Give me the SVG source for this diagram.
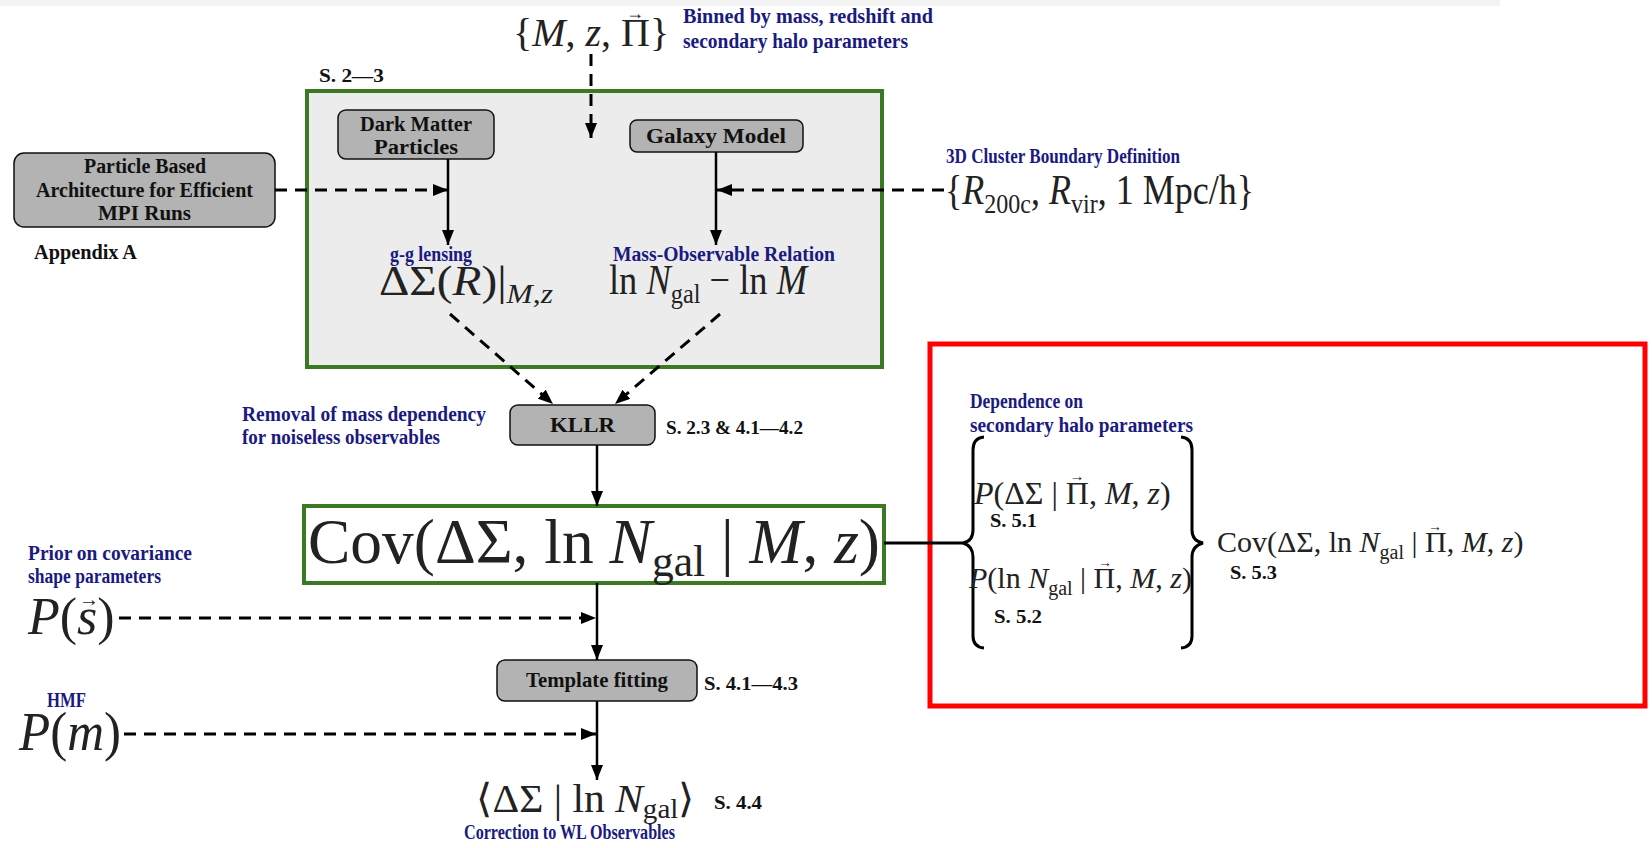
<svg xmlns="http://www.w3.org/2000/svg" width="1652" height="848" viewBox="0 0 1652 848">
<defs>
<marker id="ah" markerUnits="userSpaceOnUse" markerWidth="16" markerHeight="12" refX="15" refY="6" orient="auto">
<path d="M0,0 L15,6 L0,12 z" fill="#000"/>
</marker>
<style>
.blue{font-family:"Liberation Serif",serif;font-weight:bold;fill:#1a1a80;font-size:20px}
.lbl{font-family:"Liberation Serif",serif;font-weight:bold;fill:#111;font-size:20px}
.sec{font-family:"Liberation Serif",serif;font-weight:bold;fill:#111;font-size:18px}
.math{font-family:"Liberation Serif",serif;fill:#222}
.it{font-style:italic}
.vec{font-style:normal;text-anchor:middle}
.box{fill:#b3b3b3;stroke:#111;stroke-width:1.5}
.dash{stroke:#000;stroke-width:3;stroke-dasharray:12 8;fill:none}
.solid{stroke:#000;stroke-width:2.5;fill:none}
.brace{stroke:#000;stroke-width:3;fill:none}
</style>
</defs>
<rect x="0" y="0" width="1500" height="6" fill="#f3f3f3"/>

<g id="input-binning">
<text class="math" x="513" y="46" font-size="40">{<tspan class="it">M</tspan>, <tspan class="it">z</tspan>, Π}<tspan class="vec" x="635" y="19" font-size="18">→</tspan></text>
<text class="blue" x="683" y="23" textLength="250" lengthAdjust="spacingAndGlyphs">Binned by mass, redshift and</text>
<text class="blue" x="683" y="48" textLength="225" lengthAdjust="spacingAndGlyphs">secondary halo parameters</text>
</g>

<g id="sim-box">
<rect x="307" y="91" width="575" height="276" fill="#ececec" stroke="#3b7a22" stroke-width="4"/>
<text class="sec" x="319" y="82" font-size="19" textLength="65" lengthAdjust="spacingAndGlyphs">S. 2—3</text>
</g>

<g id="dm-particles">
<rect class="box" x="338" y="110" width="156" height="49" rx="8"/>
<text class="lbl" x="360" y="131" textLength="112" lengthAdjust="spacingAndGlyphs">Dark Matter</text>
<text class="lbl" x="374" y="154" textLength="84" lengthAdjust="spacingAndGlyphs">Particles</text>
</g>

<g id="galaxy-model">
<rect class="box" x="630" y="120" width="173" height="32" rx="7"/>
<text class="lbl" x="646" y="143" textLength="140" lengthAdjust="spacingAndGlyphs">Galaxy Model</text>
</g>

<g id="particle-arch">
<rect class="box" x="14" y="153" width="261" height="74" rx="10"/>
<text class="lbl" x="84" y="173" textLength="122" lengthAdjust="spacingAndGlyphs">Particle Based</text>
<text class="lbl" x="36" y="197" textLength="217" lengthAdjust="spacingAndGlyphs">Architecture for Efficient</text>
<text class="lbl" x="98" y="220" textLength="93" lengthAdjust="spacingAndGlyphs">MPI Runs</text>
<text class="lbl" x="34" y="259" textLength="103" lengthAdjust="spacingAndGlyphs">Appendix A</text>
</g>

<g id="gg-lensing">
<text class="blue" x="390" y="261" textLength="82" lengthAdjust="spacingAndGlyphs">g-g lensing</text>
<text class="math" x="379" y="295" font-size="42" textLength="174" lengthAdjust="spacingAndGlyphs">ΔΣ(<tspan class="it">R</tspan>)|<tspan class="it" font-size="28" dy="8">M</tspan><tspan font-size="28">,</tspan><tspan class="it" font-size="28">z</tspan></text>
</g>

<g id="mass-observable">
<text class="blue" x="613" y="261" textLength="222" lengthAdjust="spacingAndGlyphs">Mass-Observable Relation</text>
<text class="math" x="609" y="294" font-size="42" textLength="198" lengthAdjust="spacingAndGlyphs">ln <tspan class="it">N</tspan><tspan font-size="28" dy="9">gal</tspan><tspan dy="-9"> − ln </tspan><tspan class="it">M</tspan></text>
</g>

<g id="boundary">
<text class="blue" x="946" y="163" textLength="234" lengthAdjust="spacingAndGlyphs">3D Cluster Boundary Definition</text>
<text class="math" x="945" y="204" font-size="42" textLength="309" lengthAdjust="spacingAndGlyphs">{<tspan class="it">R</tspan><tspan font-size="28" dy="9">200c</tspan><tspan dy="-9">, </tspan><tspan class="it">R</tspan><tspan font-size="28" dy="9">vir</tspan><tspan dy="-9">, 1 Mpc/h}</tspan></text>
</g>

<g id="kllr">
<rect class="box" x="510" y="405" width="145" height="40" rx="8"/>
<text class="lbl" x="550" y="432" textLength="65" lengthAdjust="spacingAndGlyphs">KLLR</text>
<text class="sec" x="666" y="434" textLength="137" lengthAdjust="spacingAndGlyphs">S. 2.3 &amp; 4.1—4.2</text>
<text class="blue" x="242" y="421" textLength="244" lengthAdjust="spacingAndGlyphs">Removal of mass dependency</text>
<text class="blue" x="242" y="444" textLength="198" lengthAdjust="spacingAndGlyphs">for noiseless observables</text>
</g>

<g id="cov-box">
<rect x="304" y="506" width="580" height="77" fill="#fff" stroke="#3b7a22" stroke-width="4"/>
<text class="math" x="308" y="563" font-size="64" textLength="572" lengthAdjust="spacingAndGlyphs">Cov(ΔΣ, ln <tspan class="it">N</tspan><tspan font-size="44" dy="13">gal</tspan><tspan dy="-13"> | </tspan><tspan class="it">M</tspan>, <tspan class="it">z</tspan>)</text>
</g>

<g id="secondary-box">
<rect x="930" y="344" width="715" height="362" fill="none" stroke="#ff0000" stroke-width="5"/>
<text class="blue" x="970" y="408" textLength="113" lengthAdjust="spacingAndGlyphs">Dependence on</text>
<text class="blue" x="970" y="432" textLength="223" lengthAdjust="spacingAndGlyphs">secondary halo parameters</text>
<path class="brace" d="M984,437 Q973,438 973,450 L973,530 Q973,541 963,543 Q973,546 973,557 L973,636 Q973,647 984,648"/>
<path class="brace" d="M1181,437 Q1192,438 1192,450 L1192,530 Q1192,541 1203,543 Q1192,546 1192,557 L1192,636 Q1192,647 1181,648"/>
<text class="math" x="974" y="504" font-size="32" fill="#333"><tspan class="it">P</tspan>(ΔΣ | Π, <tspan class="it">M</tspan>, <tspan class="it">z</tspan>)<tspan class="vec" x="1077" y="481" font-size="15">→</tspan></text>
<text class="sec" x="990" y="527" textLength="47" lengthAdjust="spacingAndGlyphs">S. 5.1</text>
<text class="math" x="969" y="588" font-size="30" fill="#333"><tspan class="it">P</tspan>(ln <tspan class="it">N</tspan><tspan font-size="20" dy="7">gal</tspan><tspan dy="-7"> | Π, </tspan><tspan class="it">M</tspan>, <tspan class="it">z</tspan>)<tspan class="vec" x="1105" y="567" font-size="14">→</tspan></text>
<text class="sec" x="994" y="623" textLength="48" lengthAdjust="spacingAndGlyphs">S. 5.2</text>
<text class="math" x="1217" y="552" font-size="30" fill="#333">Cov(ΔΣ, ln <tspan class="it">N</tspan><tspan font-size="20" dy="7">gal</tspan><tspan dy="-7"> | Π, </tspan><tspan class="it">M</tspan>, <tspan class="it">z</tspan>)<tspan class="vec" x="1435" y="531" font-size="14">→</tspan></text>
<text class="sec" x="1230" y="579" textLength="47" lengthAdjust="spacingAndGlyphs">S. 5.3</text>
</g>

<g id="prior">
<text class="blue" x="28" y="560" textLength="164" lengthAdjust="spacingAndGlyphs">Prior on covariance</text>
<text class="blue" x="28" y="583" textLength="133" lengthAdjust="spacingAndGlyphs">shape parameters</text>
<text class="math" x="28" y="634" font-size="52"><tspan class="it">P</tspan>(<tspan class="it">s</tspan>)<tspan class="vec" x="89" y="606" font-size="20">→</tspan></text>
</g>

<g id="template">
<rect class="box" x="497" y="660" width="200" height="41" rx="8"/>
<text class="lbl" x="526" y="687" textLength="142" lengthAdjust="spacingAndGlyphs">Template fitting</text>
<text class="sec" x="704" y="690" textLength="94" lengthAdjust="spacingAndGlyphs">S. 4.1—4.3</text>
</g>

<g id="hmf">
<text class="blue" x="47" y="707" textLength="39" lengthAdjust="spacingAndGlyphs">HMF</text>
<text class="math" x="19" y="750" font-size="54" textLength="102" lengthAdjust="spacingAndGlyphs"><tspan class="it">P</tspan>(<tspan class="it">m</tspan>)</text>
</g>

<g id="output">
<text class="math" x="476" y="812" font-size="40" textLength="219" lengthAdjust="spacingAndGlyphs">⟨ΔΣ | ln <tspan class="it">N</tspan><tspan font-size="28" dy="6">gal</tspan><tspan dy="-6">⟩</tspan></text>
<text class="sec" x="714" y="809" textLength="48" lengthAdjust="spacingAndGlyphs">S. 4.4</text>
<text class="blue" x="464" y="839" textLength="211" lengthAdjust="spacingAndGlyphs">Correction to WL Observables</text>
</g>

<g id="connectors">
<line class="dash" x1="591" y1="54" x2="591" y2="138" marker-end="url(#ah)"/>
<line class="dash" x1="275" y1="190" x2="448" y2="190" marker-end="url(#ah)"/>
<line class="solid" x1="448" y1="159" x2="448" y2="245" marker-end="url(#ah)"/>
<line class="solid" x1="716" y1="152" x2="716" y2="245" marker-end="url(#ah)"/>
<line class="dash" x1="944" y1="190" x2="717" y2="190" marker-end="url(#ah)"/>
<line class="dash" x1="450" y1="314" x2="553" y2="404" marker-end="url(#ah)"/>
<line class="dash" x1="720" y1="314" x2="615" y2="404" marker-end="url(#ah)"/>
<line class="solid" x1="597" y1="445" x2="597" y2="506" marker-end="url(#ah)"/>
<line class="brace" x1="884" y1="543" x2="963" y2="543"/>
<line class="dash" x1="119" y1="618" x2="596" y2="618" marker-end="url(#ah)"/>
<line class="solid" x1="597" y1="583" x2="597" y2="660" marker-end="url(#ah)"/>
<line class="dash" x1="124" y1="734" x2="596" y2="734" marker-end="url(#ah)"/>
<line class="solid" x1="597" y1="701" x2="597" y2="780" marker-end="url(#ah)"/>
</g>
</svg>
